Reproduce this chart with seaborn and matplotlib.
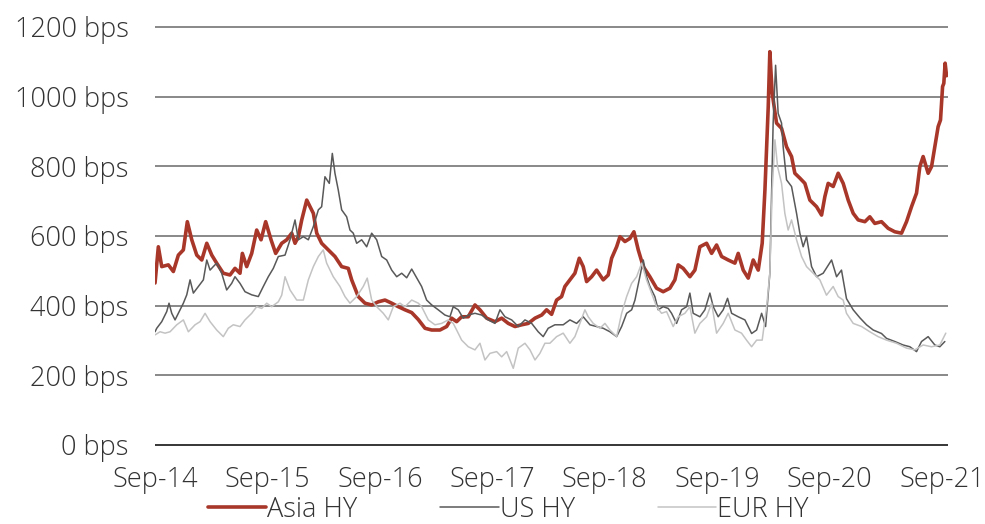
import numpy as np
import pandas as pd
import seaborn as sns
import matplotlib.pyplot as plt
import matplotlib.dates as mdates

# months after Sep-14 and spread (bps)
asia_month = [0.0, 0.35, 0.71, 1.41, 1.94, 2.47, 3.00, 3.42, 3.89, 4.42,
              4.95, 5.48, 6.01, 6.53, 7.23, 7.94, 8.47, 9.00, 9.25, 9.71,
              10.24, 10.77, 11.23, 11.72, 12.29, 12.78, 13.42, 13.95, 14.48, 14.83,
              15.18, 15.54, 16.07, 16.42, 16.77, 17.13, 17.65, 18.35, 19.06, 19.77,
              20.47, 20.83, 21.53, 22.24, 22.95, 23.65, 24.36, 25.07, 25.77, 26.48,
              27.19, 27.89, 28.60, 29.31, 30.18, 30.89, 31.42, 31.95, 32.48, 33.18,
              33.89, 34.42, 35.13, 36.01, 36.72, 37.42, 38.13, 38.84, 39.54, 40.25,
              40.96, 41.48, 42.01, 42.54, 43.07, 43.42, 43.95, 44.48, 44.94, 45.36,
              45.72, 46.25, 46.78, 47.48, 48.01, 48.37, 48.90, 49.25, 49.78, 50.31,
              50.73, 51.19, 51.72, 52.42, 53.13, 53.83, 54.54, 55.07, 55.42, 55.95,
              56.66, 57.19, 57.72, 58.43, 58.96, 59.49, 60.02, 60.72, 61.43, 61.78,
              62.31, 62.84, 63.37, 63.90, 64.32, 64.61, 64.96, 65.13, 65.38, 65.59,
              65.84, 66.37, 66.90, 67.43, 67.78, 68.31, 68.84, 69.37, 70.08, 70.61,
              70.96, 71.31, 71.84, 72.37, 72.90, 73.43, 73.96, 74.49, 75.20, 75.72,
              76.25, 76.96, 77.66, 78.37, 79.08, 79.61, 80.14, 80.67, 81.02, 81.37,
              81.90, 82.26, 82.61, 82.96, 83.21, 83.43, 83.56, 83.70, 83.85]
asia_hy = [465, 569, 512, 517, 498, 545, 560, 641, 589, 545,
           531, 579, 545, 522, 493, 488, 507, 493, 550, 512,
           550, 617, 589, 641, 589, 550, 579, 589, 608, 579,
           598, 646, 703, 684, 665, 608, 579, 560, 541, 512,
           507, 474, 426, 407, 402, 411, 416, 407, 397, 388,
           380, 360, 335, 330, 330, 340, 364, 354, 368, 368,
           402, 388, 364, 354, 364, 349, 340, 345, 349, 364,
           373, 388, 375, 416, 426, 455, 474, 493, 536, 512,
           469, 483, 502, 474, 488, 536, 569, 598, 584, 593,
           612, 560, 512, 483, 450, 440, 450, 474, 517, 507,
           483, 502, 569, 579, 550, 574, 541, 531, 522, 550,
           502, 479, 531, 502, 579, 732, 971, 1129, 1010, 971,
           924, 909, 856, 828, 780, 766, 751, 703, 684, 660,
           713, 751, 742, 780, 751, 703, 665, 646, 641, 655,
           636, 641, 622, 612, 608, 641, 684, 723, 799, 828,
           780, 799, 856, 914, 933, 1029, 1038, 1096, 1060]

us_month = [0.0, 0.18, 0.71, 1.24, 1.48, 1.77, 2.12, 2.47, 3.00, 3.36,
            3.71, 4.06, 4.59, 5.12, 5.48, 5.83, 6.17, 6.53, 7.06, 7.59,
            8.12, 8.47, 9.00, 9.53, 10.24, 10.94, 11.47, 12.00, 12.53, 13.06,
            13.77, 14.30, 14.83, 15.18, 15.71, 16.24, 16.77, 17.30, 17.65,
            18.00, 18.46, 18.78, 19.06, 19.41, 19.77, 20.30, 20.65, 21.00, 21.36,
            21.89, 22.42, 22.95, 23.48, 24.01, 24.54, 25.07, 25.60, 26.13, 26.66,
            27.19, 27.72, 28.24, 28.77, 29.31, 30.00, 30.71, 31.24, 31.59, 32.12,
            32.65, 33.18, 33.89, 34.60, 35.30, 36.01, 36.54, 37.07, 37.78, 38.48,
            39.19, 39.90, 40.59, 41.12, 41.65, 42.36, 43.24, 43.95, 44.66, 45.36,
            46.07, 46.78, 47.48, 48.19, 48.90, 49.43, 49.96, 50.49, 50.84, 51.29,
            51.72, 52.07, 52.42, 52.95, 53.30, 53.83, 54.36, 54.72, 55.25, 55.78,
            56.31, 56.66, 57.01, 57.72, 58.25, 58.78, 59.13, 59.66, 60.19, 60.65,
            61.08, 61.78, 62.49, 63.20, 63.73, 64.26, 64.68, 65.13, 65.48, 65.74,
            66.01, 66.37, 66.54, 66.90, 67.43, 67.96, 68.31, 68.66, 69.02, 69.55,
            70.08, 70.78, 71.67, 72.20, 72.72, 73.25, 73.96, 74.67, 75.37, 76.08,
            76.96, 77.49, 78.37, 79.25, 79.96, 80.67, 81.20, 81.90, 82.61, 83.14,
            83.67]
us_hy = [325, 335, 354, 383, 407, 378, 359, 378, 407, 431,
         474, 436, 455, 474, 531, 502, 512, 522, 493, 445,
         464, 483, 464, 440, 431, 426, 455, 483, 507, 541,
         545, 589, 646, 589, 598, 589, 627, 675, 684,
         770, 751, 837, 780, 732, 675, 655, 617, 608, 579,
         589, 569, 608, 589, 541, 531, 502, 483, 493, 480,
         505, 480, 455, 416, 402, 388, 373, 368, 397, 388,
         364, 373, 378, 373, 359, 349, 388, 368, 359, 340,
         359, 349, 325, 311, 335, 345, 345, 359, 349, 368,
         345, 340, 335, 325, 311, 340, 378, 388, 416, 474,
         531, 483, 455, 426, 388, 397, 392, 378, 349, 388,
         397, 436, 378, 368, 388, 436, 397, 368, 388, 421,
         378, 368, 359, 320, 330, 378, 340, 493, 924, 1090,
         952, 924, 856, 761, 742, 665, 608, 569, 598, 512,
         483, 493, 531, 483, 502, 420, 388, 365, 345, 330,
         320, 306, 297, 287, 282, 268, 297, 311, 287, 282,
         297]

eur_month = [0.0, 0.53, 1.06, 1.59, 2.30, 3.00, 3.53, 4.24, 4.77, 5.30,
             5.83, 6.53, 7.23, 7.76, 8.29, 9.00, 9.53, 10.24, 10.77, 11.30,
             11.83, 12.36, 13.06, 13.42, 13.77, 14.30, 15.01, 15.71, 16.24, 16.77,
             17.30, 17.82, 18.18, 18.88, 19.59, 20.12, 20.65, 21.36, 22.06, 22.48,
             22.95, 23.48, 24.18, 24.71, 25.24, 25.95, 26.48, 27.19, 27.89, 28.24,
             28.95, 29.65, 30.36, 31.06, 31.59, 31.95, 32.48, 33.18, 33.89, 34.42,
             34.95, 35.48, 36.19, 36.72, 37.25, 37.95, 38.48, 39.19, 39.72, 40.25,
             40.77, 41.30, 41.83, 42.54, 43.24, 43.95, 44.48, 45.01, 45.54, 45.89,
             46.42, 47.13, 47.66, 48.19, 48.90, 49.43, 49.96, 50.49, 51.02, 51.55,
             52.07, 52.60, 53.13, 53.66, 54.19, 54.89, 55.42, 56.13, 56.66, 57.19,
             57.72, 58.43, 58.96, 59.49, 60.19, 60.72, 61.43, 62.13, 62.66, 63.20,
             63.73, 64.32, 64.79, 65.13, 65.38, 65.67, 65.95, 66.37, 66.72, 67.07,
             67.43, 67.96, 68.49, 69.02, 69.72, 70.43, 71.13, 71.84, 72.37, 72.90,
             73.25, 73.96, 74.85, 75.72, 76.60, 77.49, 78.55, 79.61, 80.49, 81.37,
             82.26, 83.14, 83.77]
eur_hy = [316, 325, 321, 325, 345, 359, 325, 345, 354, 378,
          354, 330, 311, 335, 345, 340, 359, 378, 397, 392,
          407, 397, 411, 430, 483, 445, 416, 416, 474, 512,
          541, 560, 522, 483, 455, 426, 407, 426, 455, 479,
          416, 397, 378, 359, 397, 407, 397, 416, 407, 397,
          359, 345, 349, 359, 349, 330, 301, 282, 273, 292,
          244, 263, 268, 253, 268, 220, 278, 292, 273, 244,
          263, 292, 292, 311, 321, 292, 311, 349, 388, 368,
          349, 335, 349, 330, 311, 378, 426, 464, 483, 522,
          474, 436, 397, 378, 383, 340, 368, 378, 397, 321,
          349, 368, 407, 321, 349, 378, 330, 321, 301, 282,
          301, 301, 397, 493, 732, 876, 799, 751, 665, 617,
          646, 589, 541, 512, 493, 474, 430, 455, 426, 416,
          378, 349, 340, 325, 311, 301, 292, 278, 273, 287,
          282, 287, 321]

series = [("Asia HY", asia_month, asia_hy, "#a8372a", 2.6),
          ("US HY", us_month, us_hy, "#595959", 1.1),
          ("EUR HY", eur_month, eur_hy, "#c3c3c3", 1.1)]

y_ticks = [0, 200, 400, 600, 800, 1000, 1200]

start = pd.Timestamp("2014-09-01")
DAYS_PER_STEP = 30.67  # the month grid above was read against the chart width
end = start + pd.Timedelta(days=84 * DAYS_PER_STEP)


def to_dates(months):
    return start + pd.to_timedelta(np.array(months) * DAYS_PER_STEP, unit="D")


sns.set_style("white")
plt.rcParams["font.family"] = ["Open Sans", "DejaVu Sans"]
plt.rcParams["font.weight"] = "light"

fig = plt.figure(figsize=(9.85, 5.24), dpi=100)
ax = fig.add_axes([0.1574, 0.1475, 0.805, 0.8077])

for name, months, vals, color, lw in series:
    df = pd.DataFrame({"date": to_dates(months), "bps": vals})
    sns.lineplot(data=df, x="date", y="bps", ax=ax, color=color,
                 linewidth=lw, label=name)

ax.set_xlim(start, end)
ax.set_ylim(-5, 1210)
ax.set_yticks(y_ticks)
ax.set_yticklabels([f"{v} bps" for v in y_ticks])
ax.set_xticks(pd.date_range(start, "2021-09-01", freq="12MS"))
ax.xaxis.set_major_formatter(mdates.DateFormatter("%b-%y"))
ax.set_xlabel("")
ax.set_ylabel("")

ax.yaxis.grid(True, color="#7f7f7f", linewidth=1.3)
ax.xaxis.grid(False)
ax.set_axisbelow(True)
ax.get_ygridlines()[0].set_color("#262626")
for s in ax.spines.values():
    s.set_visible(False)

ax.tick_params(axis="y", length=0, pad=19, labelsize=19.5, labelcolor="#333333")
ax.tick_params(axis="x", length=0, pad=14, labelsize=19.5, labelcolor="#333333")

handles, labels = ax.get_legend_handles_labels()
ax.get_legend().remove()
fig.legend(handles, labels, loc="center", bbox_to_anchor=(0.516, 0.027),
           ncol=3, frameon=False, fontsize=19.5, handlelength=2.15,
           handletextpad=0.05, columnspacing=3.05, labelcolor="#333333",
           borderaxespad=0, borderpad=0)

fig.savefig("out.png", dpi=100)
